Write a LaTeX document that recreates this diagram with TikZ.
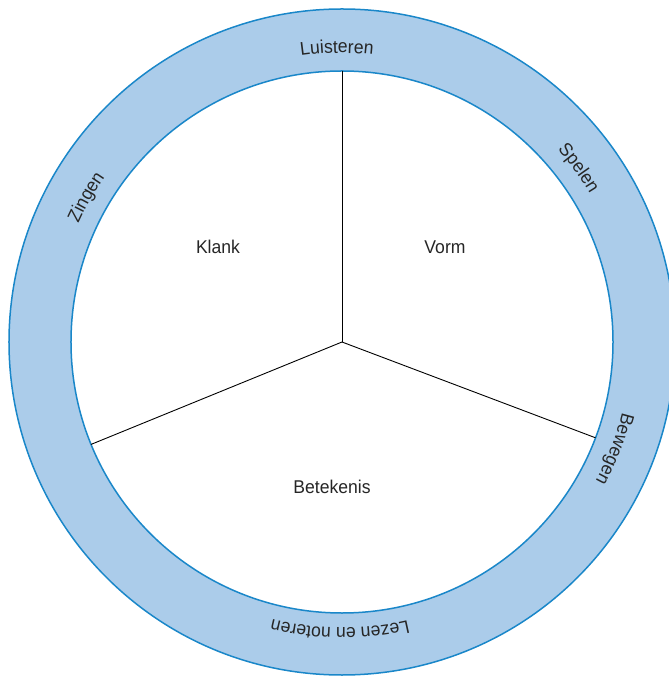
\documentclass[tikz,border=0pt]{standalone}
\usepackage{fontspec}
\setmainfont[FakeStretch=0.95]{Liberation Sans}
\usetikzlibrary{decorations.text}
\definecolor{ringfill}{HTML}{ABCCEA}
\definecolor{ringline}{HTML}{1A87C9}
\tikzset{
  ring/.style={fill=ringfill, draw=ringline, line width=1.5pt},
  inner/.style={fill=white, draw=ringline, line width=1.5pt},
  divider/.style={draw=black, line width=0.9pt},
  sector/.style={font=\fontsize{18.5}{22}\selectfont, text=black!85},
  ringtext/.style={decorate, decoration={text along path, text align={align=center},
     text={|\fontsize{18.5}{22}\selectfont\color{black!85}|#1}}}
}
\begin{document}
\begin{tikzpicture}[x=1pt,y=1pt]
  \useasboundingbox (-342,-334) rectangle (326,342);
  \coordinate (c) at (0,0);
  \draw[ring] (c) circle[radius=333];
  \draw[inner] (c) circle[radius=271];
  \coordinate (t) at (90:271);
  \coordinate (r) at (-20.7:271);
  \coordinate (l) at (202.2:271);
  \draw[divider] (c) -- (t);
  \draw[divider] (c) -- (r);
  \draw[divider] (c) -- (l);
  \node[sector] (klank) at (-124,95) {Klank};
  \node[sector] (vorm) at (103,95) {Vorm};
  \node[sector] (betekenis) at (-10,-145) {Betekenis};
  \path[ringtext={Luisteren}] (c) ++(121:289) arc[start angle=121, end angle=61, radius=289];
  \path[ringtext={Spelen}] (c) ++(66.3:289) arc[start angle=66.3, end angle=6.3, radius=289];
  \path[ringtext={Zingen}] (c) ++(180.5:289) arc[start angle=180.5, end angle=120.5, radius=289];
  \path[ringtext={Bewegen}] (c) ++(8.6:289) arc[start angle=8.6, end angle=-51.4, radius=289];
  \path[ringtext={Lezen en noteren}] (c) ++(-55.4:286) arc[start angle=-55.4, end angle=-125.4, radius=286];
\end{tikzpicture}
\end{document}
